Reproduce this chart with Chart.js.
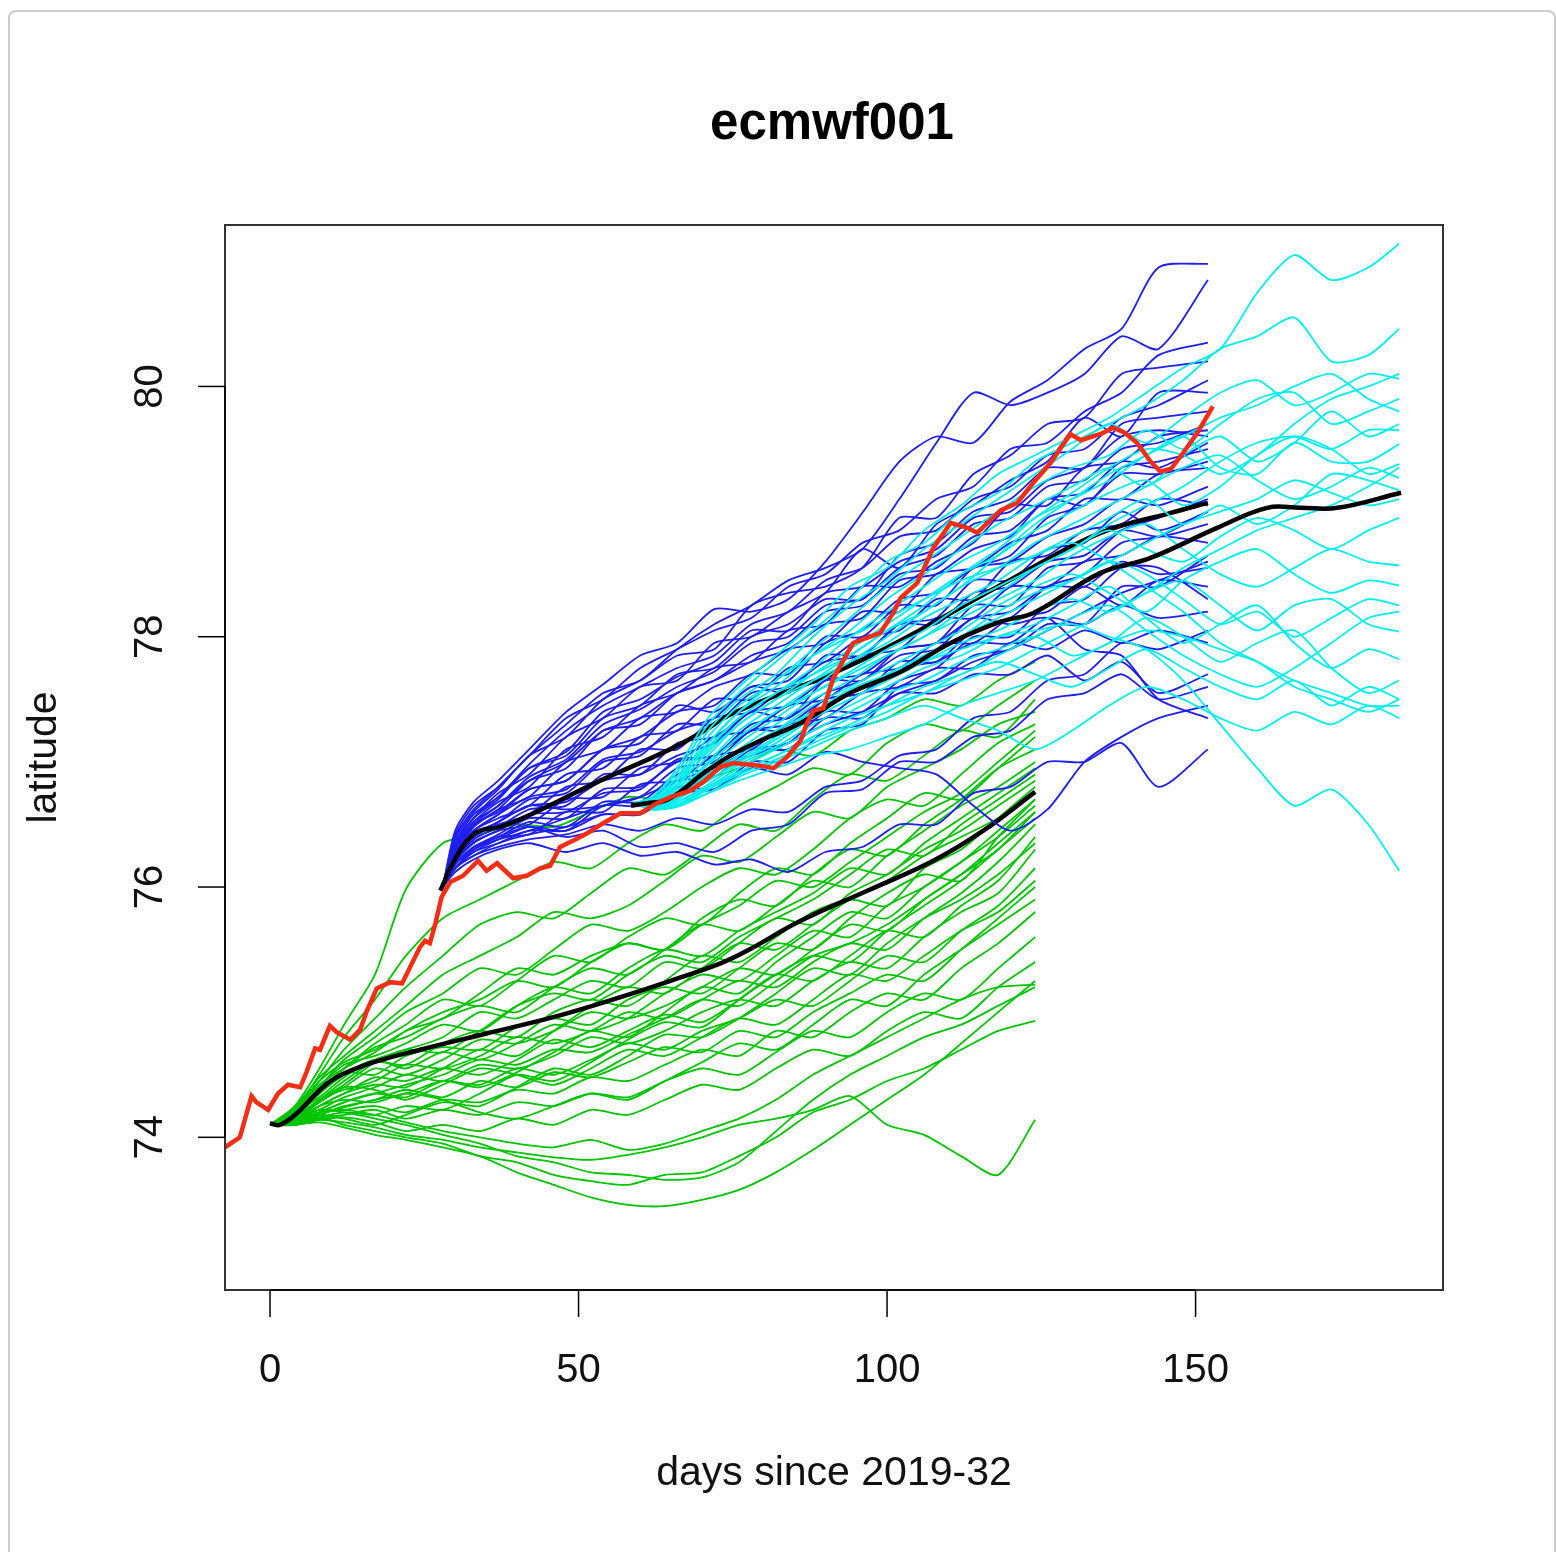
<!DOCTYPE html>
<html>
<head>
<meta charset="utf-8">
<title>ecmwf001</title>
<script src="https://cdn.jsdelivr.net/npm/chart.js@4.4.1/dist/chart.umd.min.js"></script>
<style>
  html, body { margin: 0; padding: 0; background: #fff; overflow: hidden; }
  #frame { position: absolute; left: 8px; top: 10px; width: 1548px; height: 1600px;
           border: 2px solid #cdcdcd; border-radius: 8px; box-sizing: border-box; }
  #plot { position: absolute; left: 0; top: 0; }
</style>
</head>
<body>
<div id="frame"></div>
<canvas id="plot" width="1556" height="1552"></canvas>
<script>
// Labels and ticks
const chartTitle = 'ecmwf001';
const xTitle = 'days since 2019-32';
const yTitle = 'latitude';
const xTicks = [0, 50, 100, 150];
const yTicks = [74, 76, 78, 80];

// Ensemble started at day 0 (green)
const greenDays = [0, 4, 8, 12, 17, 22, 28, 34, 40, 46, 52, 58, 64, 70, 76, 82, 88, 94, 100, 106, 112, 118, 124];
const greenRuns = [
  [74.10, 74.25, 74.55, 74.90, 75.30, 75.98, 76.35, 76.42, 76.50, 76.48, 76.60, 76.72, 76.70, 76.85, 76.95, 77.10, 77.05, 77.25, 77.35, 77.50, 77.45, 77.65, 77.80],
  [74.10, 74.22, 74.50, 74.80, 75.10, 75.45, 75.75, 75.90, 76.05, 76.20, 76.15, 76.35, 76.50, 76.45, 76.65, 76.80, 76.95, 76.90, 77.15, 77.30, 77.25, 77.45, 77.65],
  [74.10, 74.20, 74.45, 74.70, 74.95, 75.20, 75.45, 75.70, 75.80, 75.75, 75.95, 76.15, 76.10, 76.30, 76.50, 76.45, 76.70, 76.90, 76.85, 77.05, 77.25, 77.20, 77.50],
  [74.10, 74.24, 74.48, 74.65, 74.85, 75.05, 75.30, 75.45, 75.60, 75.80, 75.75, 75.85, 76.05, 76.25, 76.20, 76.40, 76.60, 76.55, 76.80, 76.95, 77.10, 77.30, 77.40],
  [74.10, 74.18, 74.40, 74.62, 74.80, 75.00, 75.15, 75.35, 75.30, 75.50, 75.70, 75.65, 75.80, 76.00, 76.15, 76.10, 76.30, 76.55, 76.70, 76.65, 76.90, 77.15, 77.30],
  [74.10, 74.20, 74.38, 74.55, 74.75, 74.90, 75.10, 75.05, 75.25, 75.45, 75.40, 75.60, 75.75, 75.70, 75.95, 76.15, 76.10, 76.35, 76.55, 76.75, 76.70, 76.95, 77.20],
  [74.10, 74.22, 74.45, 74.60, 74.70, 74.85, 74.95, 75.15, 75.35, 75.30, 75.45, 75.55, 75.50, 75.75, 75.90, 75.85, 76.10, 76.30, 76.25, 76.50, 76.70, 76.95, 77.10],
  [74.10, 74.16, 74.35, 74.55, 74.72, 74.80, 74.95, 75.05, 75.00, 75.20, 75.35, 75.30, 75.50, 75.70, 75.65, 75.85, 76.05, 76.00, 76.25, 76.45, 76.65, 76.80, 77.00],
  [74.10, 74.18, 74.40, 74.58, 74.65, 74.75, 74.90, 74.85, 75.05, 75.20, 75.15, 75.35, 75.50, 75.45, 75.65, 75.80, 75.95, 76.15, 76.10, 76.35, 76.55, 76.75, 76.95],
  [74.10, 74.20, 74.32, 74.48, 74.62, 74.70, 74.80, 75.00, 74.95, 75.10, 75.25, 75.20, 75.40, 75.35, 75.55, 75.75, 75.70, 75.95, 76.10, 76.30, 76.45, 76.65, 76.85],
  [74.10, 74.15, 74.30, 74.45, 74.60, 74.58, 74.75, 74.85, 74.80, 75.00, 75.10, 75.05, 75.25, 75.45, 75.40, 75.60, 75.80, 75.90, 75.85, 76.15, 76.30, 76.55, 76.80],
  [74.10, 74.18, 74.35, 74.52, 74.50, 74.65, 74.72, 74.70, 74.88, 74.95, 74.90, 75.10, 75.20, 75.15, 75.35, 75.55, 75.50, 75.75, 75.95, 76.10, 76.05, 76.40, 76.70],
  [74.10, 74.14, 74.28, 74.40, 74.55, 74.50, 74.62, 74.78, 74.75, 74.85, 75.00, 74.95, 75.05, 75.20, 75.35, 75.30, 75.50, 75.70, 75.65, 75.90, 76.10, 76.30, 76.60],
  [74.10, 74.16, 74.30, 74.38, 74.45, 74.58, 74.55, 74.65, 74.80, 74.75, 74.85, 75.00, 74.95, 75.10, 75.25, 75.20, 75.40, 75.55, 75.50, 75.75, 75.95, 76.20, 76.50],
  [74.10, 74.12, 74.25, 74.35, 74.48, 74.45, 74.55, 74.50, 74.62, 74.78, 74.72, 74.85, 74.98, 74.92, 75.10, 75.30, 75.25, 75.45, 75.65, 75.60, 75.85, 76.05, 76.40],
  [74.10, 74.14, 74.22, 74.32, 74.40, 74.50, 74.45, 74.58, 74.55, 74.65, 74.80, 74.75, 74.85, 75.00, 75.10, 75.05, 75.25, 75.40, 75.35, 75.60, 75.80, 75.95, 76.30],
  [74.10, 74.12, 74.20, 74.28, 74.35, 74.32, 74.45, 74.42, 74.55, 74.50, 74.62, 74.75, 74.70, 74.85, 74.95, 75.10, 75.05, 75.25, 75.45, 75.40, 75.65, 75.85, 76.15],
  [74.10, 74.10, 74.18, 74.25, 74.30, 74.38, 74.32, 74.45, 74.40, 74.52, 74.48, 74.60, 74.72, 74.68, 74.85, 74.80, 75.00, 75.15, 75.30, 75.25, 75.50, 75.75, 76.00],
  [74.10, 74.12, 74.20, 74.22, 74.25, 74.20, 74.30, 74.28, 74.38, 74.35, 74.48, 74.45, 74.58, 74.70, 74.65, 74.85, 74.80, 75.00, 75.15, 75.10, 75.35, 75.55, 75.80],
  [74.10, 74.10, 74.15, 74.18, 74.22, 74.15, 74.22, 74.18, 74.28, 74.25, 74.35, 74.32, 74.45, 74.55, 74.50, 74.68, 74.85, 74.80, 75.00, 75.15, 75.10, 75.35, 75.60],
  [74.10, 74.10, 74.14, 74.16, 74.12, 74.05, 74.10, 74.05, 74.15, 74.10, 74.22, 74.18, 74.30, 74.42, 74.38, 74.55, 74.70, 74.65, 74.85, 75.00, 74.95, 75.20, 75.40],
  [74.10, 74.12, 74.16, 74.10, 74.05, 74.00, 73.95, 73.85, 73.80, 73.70, 73.65, 73.62, 73.70, 73.72, 73.85, 74.00, 74.20, 74.30, 74.45, 74.55, 74.70, 74.85, 74.93],
  [74.10, 74.10, 74.12, 74.08, 74.02, 73.98, 73.92, 73.85, 73.72, 73.62, 73.52, 73.46, 73.45, 73.50, 73.58, 73.72, 73.90, 74.10, 74.30, 74.50, 74.75, 75.00, 75.25],
  [74.10, 74.10, 74.14, 74.12, 74.08, 74.02, 73.98, 73.92, 73.88, 73.84, 73.82, 73.86, 73.92, 74.00, 74.10, 74.15, 74.22, 74.33, 74.10, 74.02, 73.85, 73.70, 74.14],
  [74.10, 74.14, 74.22, 74.20, 74.15, 74.10, 74.02, 73.95, 73.85, 73.80, 73.72, 73.70, 73.66, 73.68, 73.80, 74.05, 74.30, 74.50, 74.65, 74.80, 74.90, 75.05, 75.20],
  [74.10, 74.13, 74.20, 74.22, 74.18, 74.12, 74.05, 74.00, 73.95, 73.92, 73.98, 73.90, 73.95, 74.05, 74.15, 74.30, 74.50, 74.65, 74.80, 74.95, 75.10, 75.20, 75.22],
  [74.10, 74.20, 74.42, 74.55, 74.68, 74.85, 75.00, 75.10, 75.25, 75.20, 75.40, 75.55, 75.50, 75.70, 75.85, 76.05, 76.00, 76.20, 76.40, 76.60, 76.75, 77.00, 77.25],
  [74.10, 74.15, 74.30, 74.42, 74.60, 74.70, 74.68, 74.85, 75.05, 75.15, 75.10, 75.30, 75.45, 75.40, 75.60, 75.75, 75.90, 76.10, 76.30, 76.25, 76.50, 76.70, 76.90],
  [74.10, 74.12, 74.25, 74.35, 74.42, 74.40, 74.55, 74.70, 74.65, 74.85, 75.05, 75.20, 75.15, 75.35, 75.55, 75.50, 75.70, 75.90, 76.05, 76.25, 76.40, 76.55, 76.75],
  [74.10, 74.11, 74.18, 74.24, 74.30, 74.35, 74.45, 74.40, 74.52, 74.68, 74.85, 74.80, 75.00, 75.20, 75.15, 75.40, 75.60, 75.80, 75.75, 76.00, 76.20, 76.40, 76.65],
  [74.10, 74.10, 74.16, 74.20, 74.18, 74.25, 74.22, 74.35, 74.50, 74.45, 74.60, 74.78, 74.92, 74.88, 75.10, 75.30, 75.45, 75.40, 75.65, 75.85, 76.05, 76.30, 76.55],
  [74.10, 74.12, 74.18, 74.15, 74.10, 74.18, 74.28, 74.25, 74.40, 74.55, 74.50, 74.65, 74.82, 74.80, 74.95, 75.15, 75.35, 75.30, 75.55, 75.75, 75.90, 76.10, 76.35],
  [74.10, 74.15, 74.28, 74.40, 74.38, 74.30, 74.42, 74.55, 74.50, 74.42, 74.55, 74.70, 74.65, 74.80, 74.95, 74.90, 75.10, 75.30, 75.25, 75.45, 75.65, 75.80, 76.05],
  [74.10, 74.18, 74.35, 74.50, 74.62, 74.55, 74.68, 74.62, 74.75, 74.90, 74.85, 74.95, 75.15, 75.30, 75.25, 75.45, 75.65, 75.60, 75.85, 76.00, 76.20, 76.45, 76.70],
  [74.10, 74.14, 74.25, 74.30, 74.28, 74.35, 74.30, 74.20, 74.15, 74.25, 74.35, 74.30, 74.45, 74.60, 74.75, 74.70, 74.90, 75.10, 75.05, 75.30, 75.50, 75.70, 75.90],
  [74.10, 74.12, 74.20, 74.28, 74.35, 74.42, 74.50, 74.62, 74.58, 74.70, 74.68, 74.82, 74.95, 75.10, 75.05, 75.25, 75.45, 75.55, 75.70, 75.90, 76.10, 76.35, 76.60]
];
const greenMeanDays = [0, 1.6, 4.3, 8.1, 10.8, 16.2, 24.3, 35.1, 45.9, 56.8, 64.9, 73, 77.3, 86, 96.8, 107.5, 115.6, 124];
const greenMean = [74.11, 74.10, 74.19, 74.38, 74.48, 74.59, 74.70, 74.83, 74.96, 75.12, 75.25, 75.39, 75.49, 75.73, 75.97, 76.21, 76.45, 76.76];

// Ensemble started at day 28 (blue)
const blueDays = [28, 30, 33, 37, 42, 48, 54, 60, 66, 72, 78, 84, 90, 96, 102, 108, 114, 120, 126, 132, 138, 144, 152];
const blueRuns = [
  [76.00, 76.45, 76.68, 76.85, 77.10, 77.40, 77.62, 77.85, 77.95, 78.22, 78.20, 78.30, 78.60, 78.99, 79.40, 79.60, 79.55, 79.88, 80.05, 80.30, 80.46, 80.95, 80.98],
  [76.00, 76.42, 76.65, 76.80, 77.05, 77.30, 77.55, 77.65, 77.90, 78.10, 78.25, 78.45, 78.55, 78.70, 79.10, 79.55, 79.95, 79.85, 79.95, 80.10, 80.40, 80.30, 80.85],
  [76.00, 76.38, 76.60, 76.78, 77.05, 77.20, 77.50, 77.65, 77.85, 77.90, 78.25, 78.35, 78.40, 78.55, 78.95, 78.95, 79.30, 79.45, 79.70, 79.75, 80.10, 80.15, 80.20],
  [76.00, 76.35, 76.55, 76.75, 76.90, 77.20, 77.35, 77.60, 77.65, 77.95, 78.00, 78.20, 78.35, 78.70, 78.55, 78.90, 79.05, 79.25, 79.40, 79.75, 79.60, 79.95, 79.95],
  [76.00, 76.32, 76.55, 76.70, 76.95, 77.05, 77.35, 77.45, 77.70, 77.75, 78.00, 78.10, 78.30, 78.30, 78.65, 78.75, 79.00, 79.10, 79.35, 79.35, 79.70, 79.75, 79.80],
  [76.00, 76.30, 76.52, 76.68, 76.80, 77.10, 77.20, 77.45, 77.55, 77.75, 77.80, 78.05, 78.10, 78.40, 78.40, 78.60, 78.75, 79.05, 79.05, 79.35, 79.40, 79.60, 79.65],
  [76.00, 76.30, 76.50, 76.65, 76.85, 76.95, 77.25, 77.30, 77.55, 77.65, 77.80, 77.90, 78.10, 78.15, 78.45, 78.50, 78.70, 78.80, 79.10, 79.05, 79.35, 79.40, 79.50],
  [76.00, 76.28, 76.48, 76.62, 76.72, 77.00, 77.10, 77.35, 77.40, 77.60, 77.70, 77.90, 77.95, 78.20, 78.20, 78.50, 78.55, 78.75, 78.85, 79.10, 79.10, 79.30, 79.35],
  [76.00, 76.25, 76.45, 76.58, 76.78, 76.85, 77.10, 77.20, 77.40, 77.45, 77.70, 77.70, 78.00, 78.00, 78.25, 78.25, 78.55, 78.60, 78.80, 78.90, 79.10, 79.05, 79.20],
  [76.00, 76.25, 76.45, 76.55, 76.65, 76.90, 76.95, 77.20, 77.25, 77.50, 77.50, 77.75, 77.80, 78.00, 78.05, 78.30, 78.30, 78.60, 78.65, 78.85, 78.90, 79.10, 79.05],
  [76.00, 76.22, 76.42, 76.52, 76.70, 76.75, 77.00, 77.05, 77.30, 77.30, 77.55, 77.60, 77.80, 77.85, 78.10, 78.10, 78.35, 78.40, 78.60, 78.65, 78.85, 78.80, 78.90],
  [76.00, 76.22, 76.40, 76.50, 76.58, 76.80, 76.85, 77.10, 77.10, 77.35, 77.40, 77.60, 77.65, 77.85, 77.90, 78.15, 78.15, 78.40, 78.40, 78.60, 78.65, 78.80, 78.75],
  [76.00, 76.20, 76.38, 76.48, 76.62, 76.65, 76.90, 76.90, 77.15, 77.20, 77.40, 77.45, 77.65, 77.70, 77.90, 77.95, 78.15, 78.20, 78.40, 78.40, 78.60, 78.50, 78.55],
  [76.00, 76.20, 76.35, 76.45, 76.50, 76.70, 76.72, 76.95, 77.00, 77.20, 77.25, 77.45, 77.50, 77.70, 77.75, 77.95, 77.95, 78.15, 78.20, 78.40, 78.25, 78.45, 78.40],
  [76.00, 76.18, 76.32, 76.42, 76.55, 76.55, 76.78, 76.80, 77.00, 77.05, 77.25, 77.30, 77.50, 77.55, 77.75, 77.80, 77.95, 77.95, 78.15, 78.10, 78.25, 78.15, 78.20],
  [76.00, 76.18, 76.30, 76.40, 76.42, 76.60, 76.60, 76.82, 76.85, 77.05, 77.10, 77.30, 77.35, 77.55, 77.60, 77.75, 77.75, 77.95, 77.90, 78.05, 77.95, 78.05, 77.95],
  [76.00, 76.15, 76.28, 76.38, 76.48, 76.45, 76.65, 76.65, 76.85, 76.88, 77.10, 77.10, 77.35, 77.35, 77.55, 77.55, 77.70, 77.70, 77.85, 77.65, 77.80, 77.55, 77.70],
  [76.00, 76.15, 76.25, 76.35, 76.42, 76.48, 76.58, 76.58, 76.75, 76.78, 76.95, 76.90, 77.08, 77.00, 76.95, 76.90, 76.65, 76.45, 76.62, 77.00, 77.20, 77.35, 77.45],
  [76.00, 76.12, 76.22, 76.30, 76.35, 76.28, 76.35, 76.25, 76.28, 76.18, 76.22, 76.12, 76.28, 76.32, 76.50, 76.50, 76.75, 76.80, 77.00, 77.00, 77.15, 76.80, 77.10],
  [76.00, 76.15, 76.30, 76.40, 76.48, 76.40, 76.45, 76.32, 76.35, 76.28, 76.45, 76.50, 76.75, 76.78, 77.00, 77.00, 77.20, 77.25, 77.50, 77.55, 77.70, 77.50, 77.60],
  [76.00, 76.25, 76.42, 76.52, 76.65, 76.62, 76.65, 76.72, 76.95, 77.00, 77.25, 77.25, 77.50, 77.55, 77.80, 77.80, 78.05, 78.15, 78.40, 78.50, 78.75, 78.80, 79.00],
  [76.00, 76.28, 76.50, 76.60, 76.78, 76.85, 77.10, 77.15, 77.45, 77.40, 77.60, 77.65, 77.95, 78.05, 78.30, 78.35, 78.55, 78.65, 78.95, 79.05, 79.30, 79.30, 79.40],
  [76.00, 76.22, 76.40, 76.52, 76.65, 76.68, 76.85, 76.90, 77.05, 77.15, 77.40, 77.35, 77.65, 77.65, 77.90, 77.95, 78.25, 78.25, 78.55, 78.60, 78.85, 78.95, 79.10],
  [76.00, 76.18, 76.32, 76.40, 76.52, 76.48, 76.68, 76.68, 76.90, 76.95, 77.10, 77.15, 77.40, 77.40, 77.65, 77.75, 78.00, 78.00, 78.25, 78.30, 78.55, 78.55, 78.30],
  [76.00, 76.32, 76.55, 76.72, 76.95, 77.08, 77.40, 77.50, 77.68, 77.80, 78.05, 78.05, 78.35, 78.40, 78.60, 78.70, 78.95, 79.00, 79.25, 79.35, 79.60, 79.65, 79.60],
  [76.00, 76.25, 76.45, 76.58, 76.72, 76.78, 77.02, 77.08, 77.25, 77.35, 77.60, 77.55, 77.85, 77.85, 78.10, 78.15, 78.45, 78.45, 78.70, 78.75, 79.00, 78.85, 79.00],
  [76.00, 76.15, 76.28, 76.35, 76.45, 76.45, 76.58, 76.58, 76.80, 76.78, 77.00, 77.00, 77.25, 77.30, 77.60, 77.65, 77.85, 77.90, 78.10, 78.10, 78.40, 78.40, 78.65],
  [76.00, 76.20, 76.36, 76.45, 76.58, 76.60, 76.75, 76.78, 77.02, 77.05, 77.30, 77.35, 77.55, 77.65, 77.85, 77.90, 78.15, 78.10, 78.15, 77.90, 77.85, 77.50, 77.35],
  [76.00, 76.35, 76.58, 76.72, 76.98, 77.25, 77.45, 77.60, 77.75, 77.85, 78.10, 78.20, 78.45, 78.55, 78.80, 78.85, 79.10, 79.20, 79.45, 79.50, 79.75, 79.85, 80.05],
  [76.00, 76.40, 76.62, 76.80, 77.05, 77.35, 77.50, 77.75, 77.90, 78.05, 78.15, 78.40, 78.50, 78.75, 78.85, 79.10, 79.20, 79.50, 79.55, 79.80, 79.95, 80.25, 80.35],
  [76.00, 76.26, 76.48, 76.62, 76.85, 77.00, 77.25, 77.35, 77.55, 77.65, 77.85, 77.95, 78.20, 78.25, 78.50, 78.55, 78.80, 78.85, 79.10, 79.15, 79.40, 79.35, 79.55],
  [76.00, 76.15, 76.25, 76.32, 76.38, 76.42, 76.50, 76.45, 76.55, 76.50, 76.62, 76.60, 76.80, 76.85, 77.05, 77.10, 77.35, 77.40, 77.65, 77.70, 77.95, 77.90, 78.05],
  [76.00, 76.18, 76.30, 76.38, 76.45, 76.55, 76.65, 76.72, 76.85, 76.95, 77.05, 77.15, 77.30, 77.40, 77.55, 77.65, 77.80, 77.90, 78.05, 78.20, 78.35, 78.45, 78.60],
  [76.00, 76.30, 76.52, 76.65, 76.88, 77.02, 77.30, 77.42, 77.60, 77.72, 77.95, 78.00, 78.25, 78.30, 78.55, 78.65, 78.90, 78.95, 79.20, 79.25, 79.50, 79.55, 79.70]
];
const blueMeanDays = [27.6, 29.5, 31.9, 34, 37.3, 42.7, 53.5, 64.4, 69.7, 75.1, 91.3, 102.2, 120.5, 134.6, 146, 152];
const blueMean = [75.97, 76.18, 76.37, 76.45, 76.48, 76.59, 76.85, 77.09, 77.23, 77.39, 77.71, 77.97, 78.47, 78.83, 78.99, 79.07];

// Ensemble started at day 59 (cyan)
const cyanDays = [59, 62, 66, 71, 76, 82, 88, 94, 100, 106, 112, 118, 124, 130, 136, 142, 148, 154, 160, 166, 172, 178, 183];
const cyanRuns = [
  [76.67, 76.72, 76.95, 77.35, 77.60, 77.85, 78.10, 78.40, 78.55, 78.85, 79.05, 79.30, 79.45, 79.60, 79.75, 79.95, 80.15, 80.30, 80.75, 81.05, 80.85, 80.95, 81.14],
  [76.67, 76.72, 76.92, 77.30, 77.55, 77.80, 78.05, 78.30, 78.60, 78.75, 79.00, 79.15, 79.40, 79.55, 79.70, 79.85, 80.05, 80.30, 80.40, 80.55, 80.20, 80.25, 80.46],
  [76.67, 76.70, 76.88, 77.25, 77.50, 77.70, 78.00, 78.25, 78.45, 78.70, 78.90, 79.10, 79.30, 79.50, 79.70, 79.55, 79.75, 79.95, 80.05, 79.85, 79.95, 80.10, 80.06],
  [76.67, 76.70, 76.85, 77.20, 77.45, 77.65, 77.90, 78.15, 78.40, 78.60, 78.80, 79.00, 79.20, 79.35, 79.45, 79.65, 79.50, 79.70, 79.90, 79.95, 79.70, 79.80, 79.90],
  [76.67, 76.70, 76.82, 77.15, 77.40, 77.60, 77.85, 78.05, 78.30, 78.50, 78.70, 78.90, 79.05, 79.20, 79.35, 79.20, 79.45, 79.60, 79.40, 79.55, 79.80, 79.60, 79.70],
  [76.67, 76.68, 76.80, 77.10, 77.35, 77.55, 77.75, 78.00, 78.20, 78.40, 78.60, 78.75, 78.95, 79.10, 79.25, 79.45, 79.60, 79.35, 79.30, 79.55, 79.40, 79.40, 79.54],
  [76.67, 76.68, 76.78, 77.05, 77.30, 77.50, 77.70, 77.90, 78.10, 78.30, 78.50, 78.65, 78.85, 79.00, 79.15, 79.25, 79.05, 79.20, 79.45, 79.60, 79.50, 79.30, 79.38],
  [76.67, 76.66, 76.76, 77.00, 77.25, 77.45, 77.65, 77.85, 78.05, 78.20, 78.40, 78.55, 78.75, 78.90, 79.05, 79.20, 79.35, 79.45, 79.25, 79.10, 79.20, 79.35, 79.27],
  [76.67, 76.66, 76.75, 76.98, 77.20, 77.40, 77.60, 77.80, 77.95, 78.15, 78.30, 78.45, 78.65, 78.80, 78.95, 79.10, 78.90, 79.05, 78.90, 79.05, 79.30, 79.25, 79.17],
  [76.67, 76.65, 76.74, 76.95, 77.15, 77.35, 77.55, 77.72, 77.90, 78.05, 78.25, 78.40, 78.55, 78.70, 78.85, 78.70, 78.60, 78.80, 78.95, 78.85, 78.70, 78.85, 78.95],
  [76.67, 76.65, 76.72, 76.92, 77.10, 77.30, 77.50, 77.65, 77.85, 78.00, 78.15, 78.30, 78.45, 78.65, 78.80, 78.90, 78.70, 78.50, 78.40, 78.55, 78.70, 78.60, 78.57],
  [76.67, 76.64, 76.72, 76.90, 77.05, 77.25, 77.45, 77.60, 77.75, 77.90, 78.05, 78.25, 78.40, 78.50, 78.35, 78.20, 78.45, 78.60, 78.70, 78.50, 78.35, 78.45, 78.41],
  [76.67, 76.64, 76.70, 76.88, 77.02, 77.20, 77.40, 77.55, 77.70, 77.85, 78.00, 78.15, 78.30, 78.45, 78.60, 78.50, 78.30, 78.10, 78.20, 78.00, 78.15, 78.30, 78.25],
  [76.67, 76.63, 76.70, 76.85, 77.00, 77.15, 77.35, 77.50, 77.65, 77.80, 77.95, 78.05, 78.20, 78.30, 78.20, 78.35, 78.45, 78.25, 78.05, 78.25, 78.30, 78.10, 78.04],
  [76.67, 76.63, 76.68, 76.82, 76.98, 77.12, 77.30, 77.45, 77.60, 77.75, 77.85, 78.00, 78.10, 78.25, 78.40, 78.15, 77.95, 78.10, 78.25, 77.95, 77.75, 77.90, 77.82],
  [76.67, 76.62, 76.66, 76.80, 76.95, 77.10, 77.25, 77.40, 77.55, 77.65, 77.80, 77.90, 78.00, 77.85, 77.95, 78.15, 78.00, 77.80, 77.95, 78.05, 77.75, 77.55, 77.65],
  [76.67, 76.62, 76.65, 76.78, 76.92, 77.05, 77.20, 77.35, 77.45, 77.55, 77.70, 77.80, 77.70, 77.60, 77.75, 77.90, 77.75, 77.60, 77.50, 77.65, 77.45, 77.60, 77.50],
  [76.67, 76.62, 76.64, 76.75, 76.88, 77.00, 77.12, 77.25, 77.35, 77.45, 77.35, 77.25, 77.10, 77.25, 77.45, 77.60, 77.50, 77.35, 77.25, 77.40, 77.30, 77.45, 77.35],
  [76.67, 76.64, 76.70, 76.85, 77.00, 77.18, 77.35, 77.50, 77.65, 77.80, 77.90, 78.00, 78.05, 78.10, 78.00, 77.90, 77.65, 77.30, 76.95, 76.65, 76.78, 76.50, 76.13],
  [76.67, 76.70, 76.88, 77.15, 77.40, 77.65, 77.85, 78.00, 78.15, 78.30, 78.45, 78.55, 78.65, 78.75, 78.60, 78.40, 78.20, 77.95, 77.80, 77.65, 77.55, 77.45, 77.45],
  [76.67, 76.68, 76.82, 77.08, 77.30, 77.50, 77.65, 77.80, 78.00, 78.20, 78.40, 78.65, 78.90, 79.10, 79.30, 79.45, 79.60, 79.75, 79.85, 80.00, 80.10, 79.90, 79.80],
  [76.67, 76.66, 76.76, 76.98, 77.20, 77.40, 77.55, 77.70, 77.85, 78.00, 78.20, 78.35, 78.55, 78.70, 78.90, 79.05, 79.20, 79.40, 79.55, 79.60, 79.50, 79.65, 79.65],
  [76.67, 76.65, 76.72, 76.90, 77.08, 77.25, 77.40, 77.58, 77.70, 77.85, 78.00, 78.20, 78.35, 78.45, 78.60, 78.75, 78.90, 79.00, 79.10, 79.25, 79.15, 79.05, 79.10],
  [76.67, 76.62, 76.66, 76.78, 76.90, 77.02, 77.15, 77.28, 77.40, 77.55, 77.65, 77.75, 77.90, 78.05, 78.20, 78.35, 78.55, 78.70, 78.85, 78.95, 79.05, 79.20, 79.35],
  [76.67, 76.63, 76.68, 76.80, 76.92, 77.05, 77.18, 77.30, 77.45, 77.60, 77.70, 77.85, 78.00, 78.15, 78.25, 78.05, 77.85, 77.70, 77.60, 77.75, 77.95, 78.15, 78.20],
  [76.67, 76.68, 76.85, 77.12, 77.35, 77.55, 77.70, 77.85, 78.05, 78.25, 78.50, 78.70, 78.95, 79.15, 79.35, 79.50, 79.45, 79.30, 79.45, 79.70, 79.90, 80.00, 80.10],
  [76.67, 76.62, 76.65, 76.75, 76.85, 76.95, 77.05, 77.10, 77.20, 77.30, 77.45, 77.55, 77.65, 77.80, 77.95, 78.05, 78.00, 77.90, 77.80, 77.60, 77.50, 77.40, 77.50]
];
const cyanMeanDays = [58.5, 61, 64, 67, 70, 74.6, 79.5, 86, 94, 102.2, 110.3, 118.4, 123.7, 134.6, 142.7, 153.5, 161.6, 167, 173, 183.3];
const cyanMean = [76.65, 76.67, 76.69, 76.78, 76.90, 77.05, 77.17, 77.31, 77.55, 77.72, 77.95, 78.12, 78.19, 78.51, 78.63, 78.87, 79.03, 79.03, 79.03, 79.15];

// Observed track (red)
const obsDays = [-7.3, -4.9, -3.0, -2.2, -0.3, 1.3, 2.9, 4.9, 5.9, 7.3, 8.1, 9.7, 10.8, 13.0, 14.6, 15.7, 17.3, 19.5,
  21.4, 22.7, 24.3, 25.1, 25.9, 26.8, 27.8, 29.2, 31.3, 33.7, 35.1, 36.8, 39.4, 41.6, 43.8, 45.4, 47.0, 49.1, 51.4,
  54.0, 56.8, 60.0, 62.7, 65.0, 68.1, 70.2, 73.0, 75.1, 79.5, 81.6, 83.8, 86.0, 87.0, 88.1, 89.7, 91.3, 94.5, 98.9,
  101.0, 102.2, 104.9, 107.5, 110.3, 113.0, 114.6, 118.4, 121.1, 123.7, 126.5, 129.7, 131.4, 134.6, 136.7, 138.5,
  140.5, 142.7, 144.3, 146.0, 148.0, 150.3, 152.8];
const obsLat = [73.92, 74.00, 74.33, 74.28, 74.22, 74.35, 74.42, 74.40, 74.52, 74.71, 74.70, 74.89, 74.84, 74.78, 74.86, 75.01, 75.19, 75.24,
  75.23, 75.36, 75.52, 75.57, 75.55, 75.71, 75.92, 76.04, 76.09, 76.21, 76.13, 76.19, 76.07, 76.09, 76.15, 76.17, 76.32, 76.37, 76.43,
  76.51, 76.59, 76.59, 76.67, 76.72, 76.77, 76.84, 76.96, 76.99, 76.97, 76.95, 77.04, 77.17, 77.31, 77.41, 77.43, 77.67, 77.95, 78.03,
  78.19, 78.31, 78.43, 78.71, 78.91, 78.87, 78.83, 79.01, 79.07, 79.23, 79.39, 79.62, 79.57, 79.62, 79.67, 79.63,
  79.55, 79.40, 79.32, 79.34, 79.47, 79.63, 79.84];

// Colours (R palette look)
const GREEN = '#00c400';
const BLUE = '#1e1ef2';
const CYAN = '#00eeee';
const RED = '#f42d14';
const BLACK = '#000000';

function toPoints(days, vals) {
  return days.map((d, i) => ({ x: d, y: vals[i] }));
}

// lower "order" is painted on top
function series(days, vals, color, width, order, tension) {
  return {
    data: toPoints(days, vals),
    borderColor: color,
    borderWidth: width,
    pointRadius: 0,
    fill: false,
    tension: tension,
    order: order
  };
}

const datasets = [];
datasets.push(series(obsDays, obsLat, RED, 4.5, 0, 0));
datasets.push(series(cyanMeanDays, cyanMean, BLACK, 4.5, 1, 0.4));
cyanRuns.forEach(r => datasets.push(series(cyanDays, r, CYAN, 1.8, 2, 0.25)));
datasets.push(series(blueMeanDays, blueMean, BLACK, 4.5, 3, 0.4));
blueRuns.forEach(r => datasets.push(series(blueDays, r, BLUE, 1.8, 4, 0.25)));
datasets.push(series(greenMeanDays, greenMean, BLACK, 4.5, 5, 0.4));
greenRuns.forEach(r => datasets.push(series(greenDays, r, GREEN, 1.8, 6, 0.25)));

// R style box, axes and titles
const rAxes = {
  id: 'rAxes',
  afterDraw(chart) {
    const c = chart.ctx;
    const a = chart.chartArea;
    const sx = chart.scales.x;
    const sy = chart.scales.y;
    c.save();
    c.strokeStyle = '#333';
    c.lineWidth = 2;
    c.strokeRect(a.left, a.top, a.right - a.left, a.bottom - a.top);

    c.strokeStyle = '#000';
    c.fillStyle = '#111';
    c.lineWidth = 1.5;
    c.font = '40px "Liberation Sans", Arial, sans-serif';

    // x axis
    const x0 = sx.getPixelForValue(xTicks[0]);
    const x1 = sx.getPixelForValue(xTicks[xTicks.length - 1]);
    c.beginPath();
    c.moveTo(x0, a.bottom); c.lineTo(x1, a.bottom);
    c.stroke();
    c.textAlign = 'center';
    c.textBaseline = 'middle';
    xTicks.forEach(t => {
      const px = sx.getPixelForValue(t);
      c.beginPath();
      c.moveTo(px, a.bottom); c.lineTo(px, a.bottom + 27);
      c.stroke();
      c.fillText(String(t), px, a.bottom + 81);
    });

    // y axis
    const y0 = sy.getPixelForValue(yTicks[0]);
    const y1 = sy.getPixelForValue(yTicks[yTicks.length - 1]);
    c.beginPath();
    c.moveTo(a.left, y0); c.lineTo(a.left, y1);
    c.stroke();
    yTicks.forEach(t => {
      const py = sy.getPixelForValue(t);
      c.beginPath();
      c.moveTo(a.left, py); c.lineTo(a.left - 27, py);
      c.stroke();
      c.save();
      c.translate(a.left - 74, py);
      c.rotate(-Math.PI / 2);
      c.fillText(String(t), 0, 0);
      c.restore();
    });

    // titles
    c.font = 'bold 51px "Liberation Sans", Arial, sans-serif';
    c.fillStyle = '#000';
    c.fillText(chartTitle, (a.left + a.right) / 2 - 2, 125);
    c.font = '41px "Liberation Sans", Arial, sans-serif';
    c.fillStyle = '#111';
    c.fillText(xTitle, (a.left + a.right) / 2, 1474);
    c.save();
    c.translate(45, (a.top + a.bottom) / 2);
    c.rotate(-Math.PI / 2);
    c.fillText(yTitle, 0, 0);
    c.restore();
    c.restore();
  }
};

new Chart(document.getElementById('plot').getContext('2d'), {
  type: 'line',
  data: { datasets: datasets },
  options: {
    responsive: false,
    animation: false,
    events: [],
    layout: { padding: { left: 225, top: 225, right: 113, bottom: 262 } },
    plugins: { legend: { display: false }, tooltip: { enabled: false }, title: { display: false } },
    scales: {
      x: { type: 'linear', min: -7.3, max: 190.1, display: false },
      y: { type: 'linear', min: 72.78, max: 81.29, display: false }
    }
  },
  plugins: [rAxes]
});
</script>
</body>
</html>
